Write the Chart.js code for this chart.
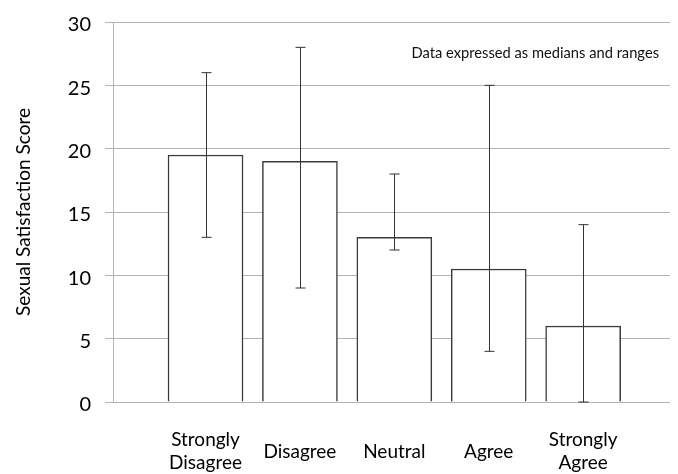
<!DOCTYPE html>
<html>
<head>
<meta charset="utf-8">
<script src="https://cdn.jsdelivr.net/npm/chart.js@4.4.1/dist/chart.umd.min.js"></script>
<style>
  html, body { margin: 0; padding: 0; background: #fff; }
</style>
</head>
<body>
<canvas id="chart" width="678" height="474"></canvas>
<script>
// values (medians with min/max range)
const categories = [['Strongly', 'Disagree'], 'Disagree', 'Neutral', 'Agree', ['Strongly', 'Agree']];
const medians    = [19.5, 19, 13, 10.5, 6];
const rangeLow   = [13, 9, 12, 4, 0];
const rangeHigh  = [26, 28, 18, 25, 14];
const yTicks     = [0, 5, 10, 15, 20, 25, 30];
const noteText   = 'Data expressed as medians and ranges';

const FONT = 'Lato, "Open Sans", sans-serif';

// range whiskers with small caps
const rangeBars = {
  id: 'rangeBars',
  afterDatasetsDraw(chart) {
    const ctx = chart.ctx;
    const y = chart.scales.y;
    const meta = chart.getDatasetMeta(0);
    ctx.save();
    ctx.strokeStyle = '#333';
    ctx.lineWidth = 1;
    meta.data.forEach((bar, i) => {
      const x = Math.round(bar.x) + 0.5;
      const top = y.getPixelForValue(rangeHigh[i]);
      const bot = y.getPixelForValue(rangeLow[i]);
      ctx.beginPath();
      ctx.moveTo(x, top);
      ctx.lineTo(x, bot);
      ctx.moveTo(x - 5, top);
      ctx.lineTo(x + 5, top);
      ctx.moveTo(x - 5, bot);
      ctx.lineTo(x + 5, bot);
      ctx.stroke();
    });
    ctx.restore();
  }
};

// note in the upper right of the plot
const note = {
  id: 'note',
  afterDraw(chart) {
    const { ctx, chartArea } = chart;
    ctx.save();
    ctx.font = '14.7px ' + FONT;
    ctx.fillStyle = '#111';
    ctx.textAlign = 'right';
    ctx.textBaseline = 'middle';
    ctx.fillText(noteText, chartArea.right - 11, chartArea.top + 31);
    ctx.restore();
  }
};

new Chart(document.getElementById('chart'), {
  type: 'bar',
  data: {
    datasets: [{
      data: medians.map((m, i) => ({ x: i, y: m })),
      backgroundColor: '#fff',
      borderColor: '#3a3a3a',
      borderWidth: 1.5,
      barThickness: 75,
    }]
  },
  options: {
    responsive: false,
    animation: false,
    layout: { padding: { top: 22, right: 8, left: 8, bottom: 0 } },
    plugins: { legend: { display: false }, tooltip: { enabled: false } },
    scales: {
      x: {
        type: 'linear',
        offset: false,
        min: -0.98,
        max: 4.92,
        grid: { display: false, drawTicks: false, offset: false },
        border: { display: false },
        ticks: {
          stepSize: 1,
          includeBounds: false,
          autoSkip: false,
          maxRotation: 0,
          crossAlign: 'center',
          padding: 38,
          color: '#000',
          font: { family: FONT, size: 19 },
          callback: (v) => Number.isInteger(v) && categories[v] ? categories[v] : '',
        },
        afterFit: (s) => { s.height = 72; },
      },
      y: {
        min: 0,
        max: 30,
        afterBuildTicks: (s) => { s.ticks = yTicks.map(v => ({ value: v })); },
        grid: { color: '#b3b3b3', tickLength: 8, lineWidth: 1 },
        border: { color: '#b3b3b3' },
        ticks: {
          padding: 14,
          labelOffset: 3,
          color: '#000',
          font: { family: FONT, size: 20 },
        },
        title: {
          display: true,
          text: 'Sexual Satisfaction Score',
          color: '#000',
          font: { family: FONT, size: 19 },
        },
        // fixed axis width; let the layout padding decide the top edge
        afterFit: (s) => { s.width = 105; s.paddingTop = 0; },
      }
    }
  },
  plugins: [rangeBars, note]
});
</script>
</body>
</html>
